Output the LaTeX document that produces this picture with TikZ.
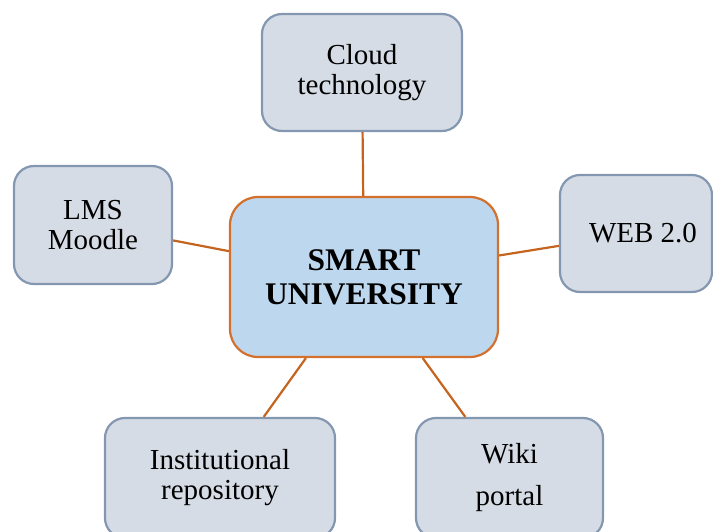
\documentclass[tikz,border=0pt]{standalone}
\usepackage{fontspec}
\setmainfont{Liberation Serif}
\usetikzlibrary{positioning}
\definecolor{boxfill}{RGB}{214,220,229}
\definecolor{boxline}{RGB}{132,151,176}
\definecolor{hubfill}{RGB}{189,215,238}
\definecolor{hubline}{RGB}{212,112,45}
\definecolor{linkline}{RGB}{197,100,30}
\begin{document}
\begin{tikzpicture}[x=1pt,y=-1pt,
  item/.style={rectangle, rounded corners=20pt, draw=boxline, fill=boxfill, line width=2.2pt,
    align=center, font=\fontsize{29}{30}\selectfont, inner sep=0pt},
  hub/.style={rectangle, rounded corners=28pt, draw=hubline, fill=hubfill, line width=2.2pt,
    align=center, font=\fontsize{31.5}{34}\selectfont\bfseries, inner sep=0pt,
    minimum width=268pt, minimum height=160pt},
  link/.style={draw=linkline, line width=2.2pt}]
\clip (0,0) rectangle (713,532);
\node[hub] (smart) at (364,277) {SMART\\UNIVERSITY};
\node[item, minimum width=200pt, minimum height=117pt] (cloud) at (362,72.5) {Cloud\\technology};
\node[item, minimum width=158pt, minimum height=118pt] (lms) at (93,225) {LMS\\Moodle};
\node[item, minimum width=152pt, minimum height=117pt] (web) at (636,233.5) {\hspace*{14pt}WEB 2.0};
\node[item, minimum width=230pt, minimum height=120pt] (repo) at (220,478) {Institutional\\repository};
\node[item, minimum width=187pt, minimum height=120pt] (wiki) at (509.5,478) {Wiki\\[12pt]portal};
% connectors
\draw[link] (cloud) -- (smart);
\draw[link] (lms) -- (smart);
\draw[link] (web) -- (smart);
\draw[link] (repo) -- (smart);
\draw[link] (wiki) -- (smart);
\end{tikzpicture}
\end{document}
